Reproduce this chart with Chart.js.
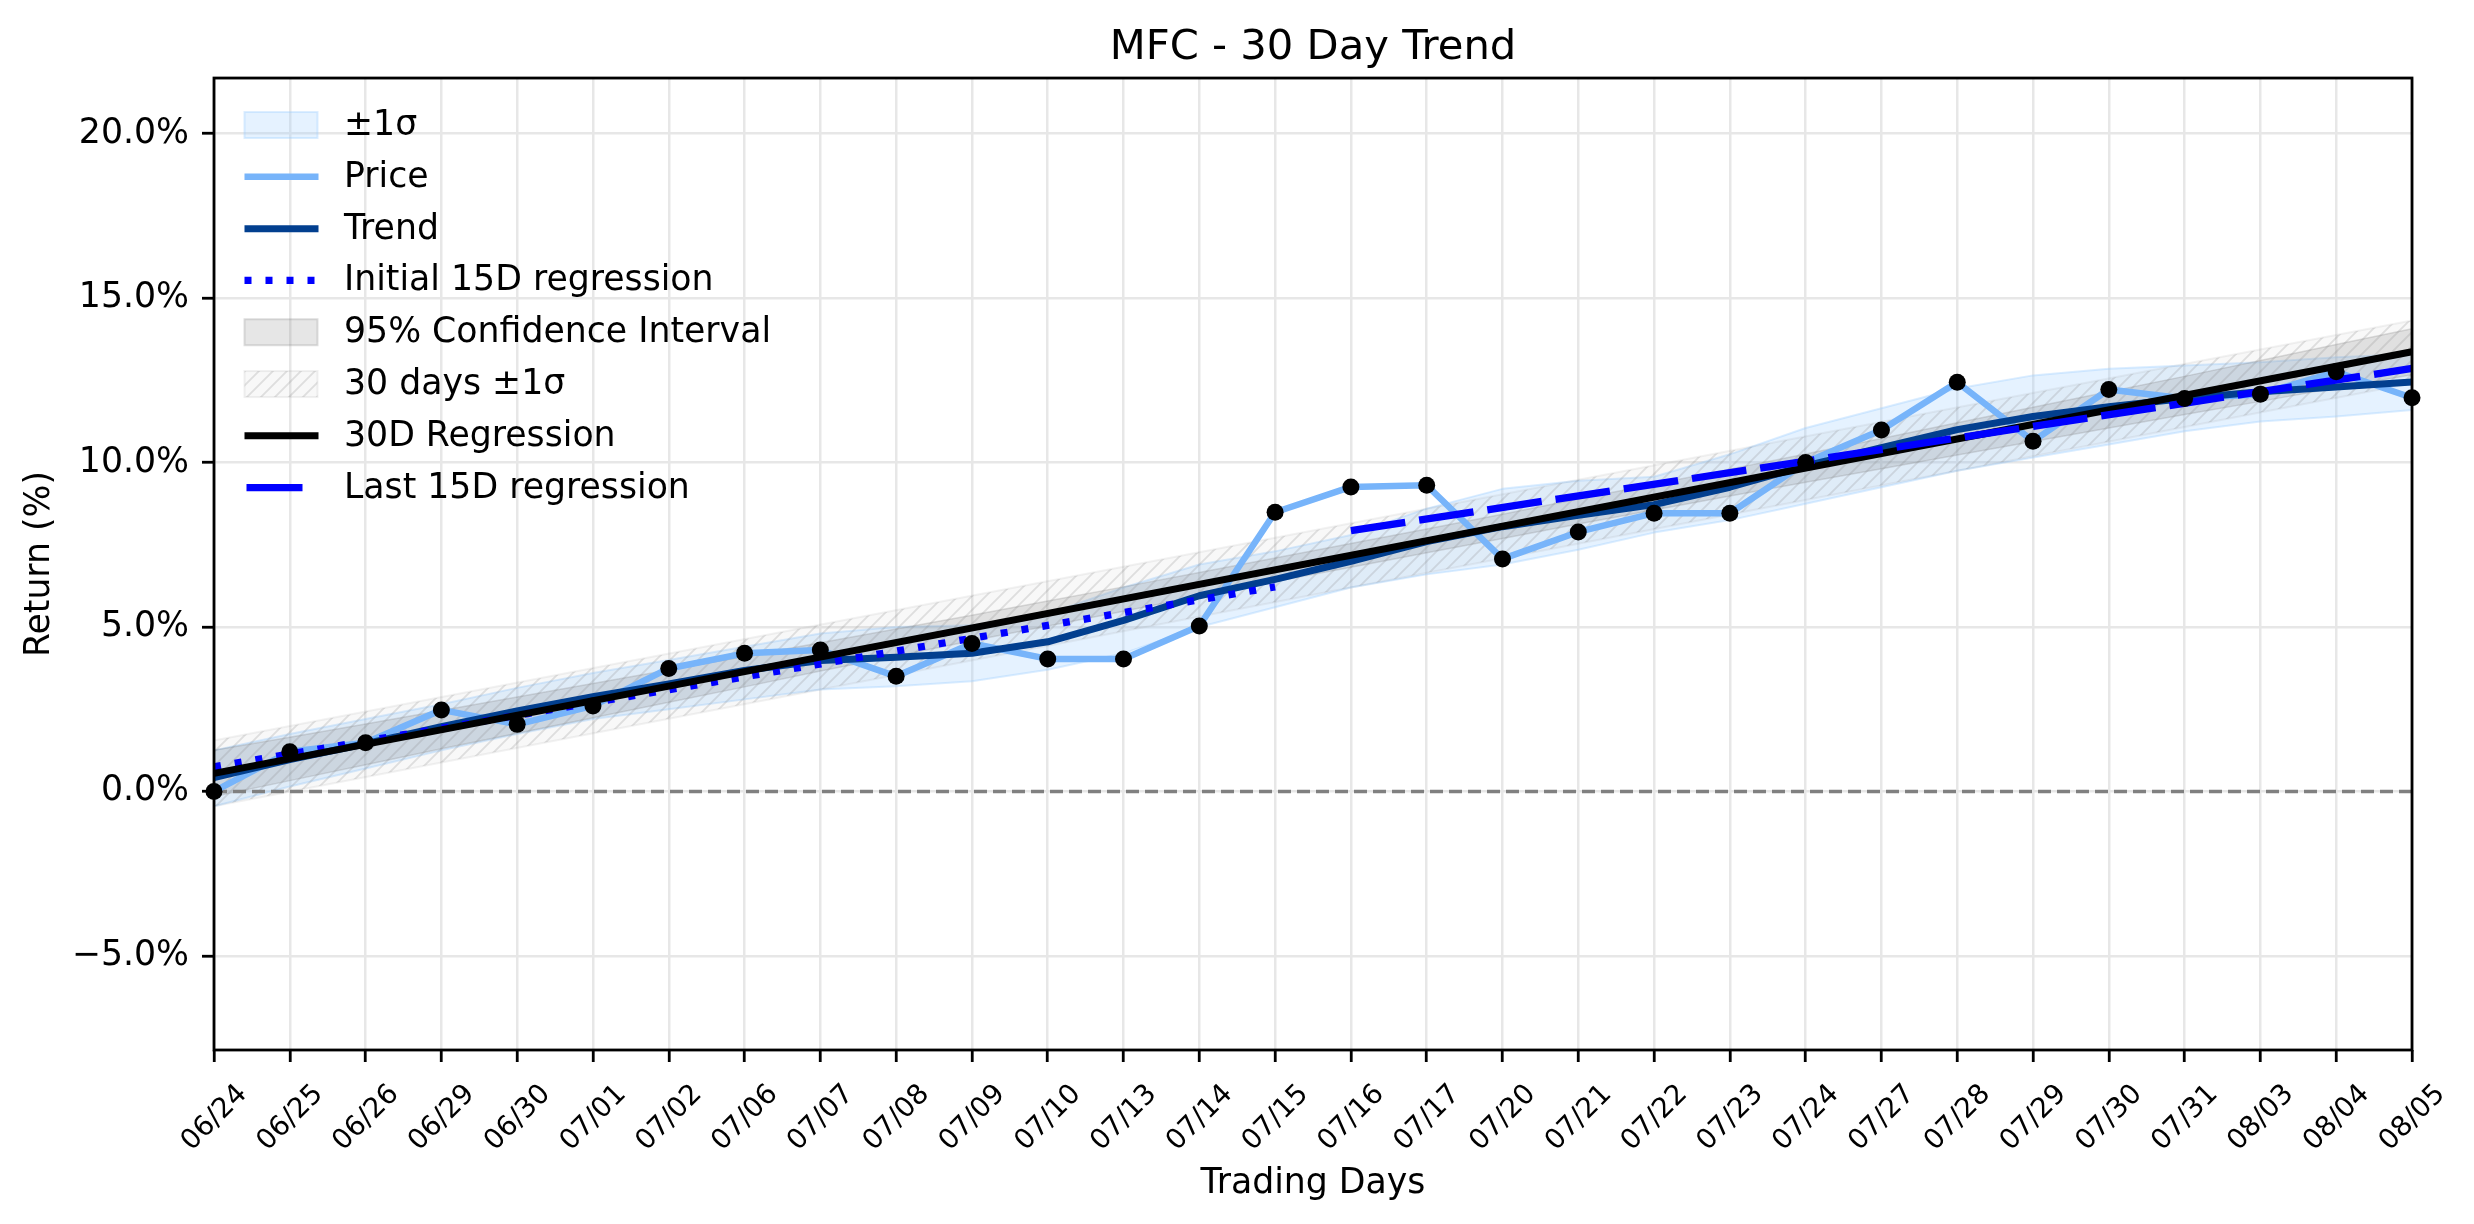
<!DOCTYPE html>
<html>
<head>
<meta charset="utf-8">
<title>MFC - 30 Day Trend</title>
<script src="https://cdn.jsdelivr.net/npm/chart.js@4.4.1/dist/chart.umd.min.js"></script>
<style>
  html, body { margin: 0; padding: 0; background: #fff; overflow: hidden; }
  #trendChart { display: block; }
</style>
</head>
<body>
<canvas id="trendChart" width="2474" height="1224"></canvas>
<script>
// values (return in %)
const tradingDays = ['06/24', '06/25', '06/26', '06/29', '06/30', '07/01', '07/02', '07/06', '07/07', '07/08',
                     '07/09', '07/10', '07/13', '07/14', '07/15', '07/16', '07/17', '07/20', '07/21', '07/22',
                     '07/23', '07/24', '07/27', '07/28', '07/29', '07/30', '07/31', '08/03', '08/04', '08/05'];
const priceReturn = [0.00, 1.21, 1.48, 2.48, 2.04, 2.60, 3.74, 4.20, 4.30, 3.50,
                     4.50, 4.03, 4.03, 5.03, 8.49, 9.26, 9.31, 7.07, 7.89, 8.46,
                     8.46, 10.00, 10.99, 12.44, 10.65, 12.22, 11.95, 12.08, 12.76, 11.97];
const trendReturn = [0.42, 0.97, 1.45, 1.97, 2.45, 2.88, 3.27, 3.68, 3.98, 4.08,
                     4.20, 4.55, 5.20, 5.95, 6.45, 7.00, 7.60, 8.05, 8.40, 8.72,
                     9.25, 9.90, 10.45, 11.00, 11.40, 11.70, 11.95, 12.15, 12.30, 12.45];
const sigmaUpper = [1.25, 1.75, 2.20, 2.65, 3.15, 3.60, 4.00, 4.40, 4.80, 5.00,
                    5.05, 5.40, 6.20, 6.90, 7.30, 7.80, 8.60, 9.20, 9.45, 9.57,
                    10.25, 11.05, 11.65, 12.25, 12.65, 12.85, 12.95, 13.05, 13.20, 13.30];
const sigmaLower = [-0.45, 0.15, 0.70, 1.25, 1.75, 2.20, 2.50, 2.80, 3.10, 3.20,
                    3.35, 3.70, 4.20, 5.00, 5.60, 6.20, 6.60, 6.90, 7.35, 7.87,
                    8.25, 8.75, 9.25, 9.75, 10.15, 10.55, 10.95, 11.25, 11.40, 11.60];
const ciUpper = [1.25, 1.65, 2.05, 2.46, 2.87, 3.28, 3.69, 4.10, 4.52, 4.94,
                 5.36, 5.79, 6.22, 6.66, 7.10, 7.54, 7.98, 8.43, 8.89, 9.34,
                 9.80, 10.26, 10.73, 11.21, 11.68, 12.15, 12.62, 13.10, 13.59, 14.07];
const ciLower = [-0.15, 0.33, 0.81, 1.30, 1.77, 2.24, 2.71, 3.18, 3.66, 4.12,
                 4.58, 5.03, 5.48, 5.94, 6.38, 6.82, 7.26, 7.69, 8.13, 8.56,
                 8.98, 9.40, 9.81, 10.23, 10.64, 11.05, 11.46, 11.86, 12.27, 12.67];

const reg30Days = ['06/24', '08/05'];
const reg30Values = [0.55, 13.37];
const band30Upper = [1.55, 14.32];
const band30Lower = [-0.45, 12.41];
const initRegDays = ['06/24', '07/15'];
const initRegValues = [0.75, 6.22];
const lastRegDays = ['07/16', '08/05'];
const lastRegValues = [7.93, 12.86];
const zeroValues = [0, 0];
const yTicks = [-5, 0, 5, 10, 15, 20];

const priceColor = '#77b4fa';
const trendColor = '#023f8f';
const regBlue = '#0000ff';
const sigmaFill = 'rgba(153,204,255,0.25)';
const sigmaEdge = 'rgba(153,204,255,0.35)';
const ciFill = 'rgba(128,128,128,0.2)';
const ciEdge = 'rgba(128,128,128,0.25)';
const hatchEdge = 'rgba(128,128,128,0.1)';
const gridColor = '#e7e7e7';

Chart.defaults.font.family = "'DejaVu Sans', sans-serif";
Chart.defaults.color = '#000';

const canvas = document.getElementById('trendChart');
const ctx = canvas.getContext('2d');

function makeHatch() {
  const tile = document.createElement('canvas');
  tile.width = 14;
  tile.height = 14;
  const g = tile.getContext('2d');
  g.fillStyle = 'rgba(128,128,128,0.06)';
  g.fillRect(0, 0, 14, 14);
  g.strokeStyle = 'rgba(128,128,128,0.22)';
  g.lineWidth = 1.8;
  g.beginPath();
  g.moveTo(-2, 16); g.lineTo(16, -2);
  g.moveTo(-2, 2); g.lineTo(2, -2);
  g.moveTo(12, 16); g.lineTo(16, 12);
  g.stroke();
  return ctx.createPattern(tile, 'repeat');
}
const hatchFill = makeHatch();

function toPoints(days, values) {
  return days.map((d, i) => ({x: d, y: values[i]}));
}

const legendItems = [
  {label: '\u00b11\u03c3', kind: 'patch', fill: sigmaFill, edge: sigmaEdge},
  {label: 'Price', kind: 'line', color: priceColor, width: 6.5, dash: [], len: 74},
  {label: 'Trend', kind: 'line', color: trendColor, width: 7, dash: [], len: 74},
  {label: 'Initial 15D regression', kind: 'line', color: regBlue, width: 7.3, dash: [7, 14], len: 74},
  {label: '95% Confidence Interval', kind: 'patch', fill: ciFill, edge: ciEdge},
  {label: '30 days \u00b11\u03c3', kind: 'patch', fill: hatchFill, edge: 'rgba(128,128,128,0.12)'},
  {label: '30D Regression', kind: 'line', color: '#000', width: 7, dash: [], len: 74},
  {label: 'Last 15D regression', kind: 'line', color: regBlue, width: 7.3, dash: [], len: 56}
];

const framePlugin = {
  id: 'frame',
  afterDatasetsDraw(chart) {
    const {ctx, chartArea: a} = chart;
    ctx.save();
    ctx.strokeStyle = '#000';
    ctx.lineWidth = 2.8;
    ctx.strokeRect(a.left, a.top, a.right - a.left, a.bottom - a.top);
    ctx.restore();
  }
};

const innerLegend = {
  id: 'innerLegend',
  afterDraw(chart) {
    const {ctx, chartArea: a} = chart;
    const x0 = a.left + 30.5;
    const textX = a.left + 130;
    ctx.save();
    ctx.font = "34.7px 'DejaVu Sans'";
    ctx.textBaseline = 'middle';
    ctx.textAlign = 'left';
    legendItems.forEach((item, i) => {
      const y = a.top + 47 + i * 51.8;
      if (item.kind === 'patch') {
        ctx.fillStyle = item.fill;
        ctx.fillRect(x0, y - 13, 73, 26);
        ctx.strokeStyle = item.edge;
        ctx.lineWidth = 2;
        ctx.strokeRect(x0, y - 13, 73, 26);
      } else {
        const start = item.len < 74 ? x0 + 2 : x0;
        ctx.beginPath();
        ctx.setLineDash(item.dash);
        ctx.strokeStyle = item.color;
        ctx.lineWidth = item.width;
        ctx.lineCap = 'butt';
        ctx.moveTo(start, y);
        ctx.lineTo(start + item.len, y);
        ctx.stroke();
        ctx.setLineDash([]);
      }
      ctx.fillStyle = '#000';
      ctx.fillText(item.label, textX, y + 1);
    });
    ctx.restore();
  }
};

const lineBase = {pointRadius: 0, fill: false, borderJoinStyle: 'round', tension: 0};

new Chart(ctx, {
  type: 'line',
  data: {
    labels: tradingDays,
    datasets: [
      // price markers on top
      {label: 'Points', data: priceReturn, showLine: false, pointRadius: 8.5, pointBackgroundColor: '#000',
       pointBorderWidth: 0, borderColor: '#000', order: 0, clip: false},
      {...lineBase, label: 'Last 15D regression', data: toPoints(lastRegDays, lastRegValues), borderColor: regBlue,
       borderWidth: 7.3, borderDash: [55, 14], borderCapStyle: 'butt', order: 1},
      {...lineBase, label: '30D Regression', data: toPoints(reg30Days, reg30Values), borderColor: '#000',
       borderWidth: 7, order: 2},
      {...lineBase, label: 'Initial 15D regression', data: toPoints(initRegDays, initRegValues), borderColor: regBlue,
       borderWidth: 7.3, borderDash: [7, 14], borderCapStyle: 'butt', order: 3},
      {...lineBase, label: 'Trend', data: trendReturn, borderColor: trendColor, borderWidth: 7, order: 4},
      {...lineBase, label: 'Price', data: priceReturn, borderColor: priceColor, borderWidth: 6.5, order: 5},
      {...lineBase, label: 'Zero', data: toPoints(reg30Days, zeroValues), borderColor: '#808080',
       borderWidth: 3.5, borderDash: [13, 6], order: 6},
      // 30 days ±1σ hatched band
      {...lineBase, label: '30 days \u00b11\u03c3', data: toPoints(reg30Days, band30Upper), borderColor: hatchEdge,
       borderWidth: 2, backgroundColor: hatchFill, fill: '+1', order: 7},
      {...lineBase, label: '30 days lower', data: toPoints(reg30Days, band30Lower), borderColor: hatchEdge,
       borderWidth: 2, order: 8},
      // 95% confidence interval
      {...lineBase, label: '95% Confidence Interval', data: ciUpper, borderColor: ciEdge, borderWidth: 1.5,
       backgroundColor: ciFill, fill: '+1', order: 9},
      {...lineBase, label: 'CI lower', data: ciLower, borderColor: ciEdge, borderWidth: 1.5, order: 10},
      // ±1σ band around trend
      {...lineBase, label: '\u00b11\u03c3', data: sigmaUpper, borderColor: sigmaEdge, borderWidth: 2,
       backgroundColor: sigmaFill, fill: '+1', order: 11},
      {...lineBase, label: 'sigma lower', data: sigmaLower, borderColor: sigmaEdge, borderWidth: 2, order: 12}
    ]
  },
  options: {
    responsive: false,
    animation: false,
    devicePixelRatio: 1,
    events: [],
    layout: {padding: {left: 0, right: 62, top: 0, bottom: 0}},
    plugins: {
      legend: {display: false},
      tooltip: {enabled: false},
      title: {
        display: true,
        text: 'MFC - 30 Day Trend',
        fullSize: false,
        color: '#000',
        font: {size: 41.7, weight: 'normal'},
        padding: {top: 23, bottom: 5}
      }
    },
    scales: {
      x: {
        type: 'category',
        offset: false,
        grid: {color: gridColor, lineWidth: 2.5, tickColor: '#000', tickLength: 12, tickWidth: 2.8, offset: false},
        border: {display: false},
        ticks: {autoSkip: false, maxRotation: 45, minRotation: 45, color: '#000', font: {size: 27.8},
                padding: 16, labelOffset: 29},
        title: {display: true, text: 'Trading Days', color: '#000', font: {size: 34.7}, padding: {top: 0, bottom: 19}},
        afterFit(scale) { scale.height = 174; }
      },
      y: {
        type: 'linear',
        min: -7.86,
        max: 21.69,
        afterBuildTicks(scale) { scale.ticks = yTicks.map(v => ({value: v})); },
        grid: {color: gridColor, lineWidth: 2.5, tickColor: '#000', tickLength: 12, tickWidth: 2.8},
        border: {display: false},
        ticks: {
          color: '#000',
          font: {size: 34.7},
          padding: 13,
          callback: v => (v < 0 ? '\u2212' : '') + Math.abs(v).toFixed(1) + '%'
        },
        title: {display: true, text: 'Return (%)', color: '#000', font: {size: 34.7}, padding: {top: 19, bottom: 0}},
        afterFit(scale) { scale.width = 214; }
      }
    }
  },
  plugins: [framePlugin, innerLegend]
});
</script>
</body>
</html>
